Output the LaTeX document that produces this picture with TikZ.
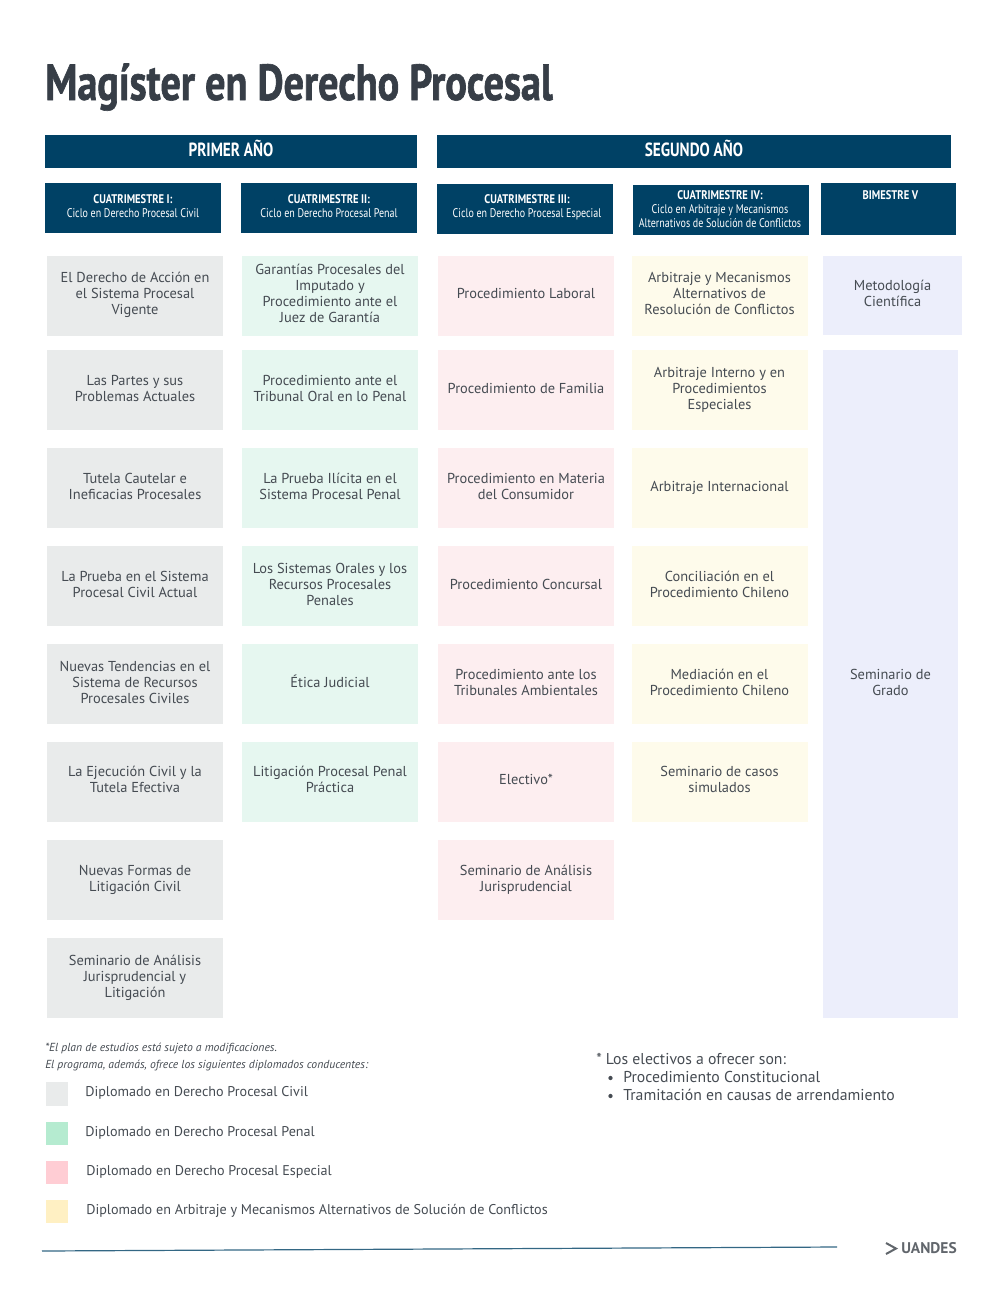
\documentclass[tikz,border=0pt]{standalone}
\usepackage{fontspec}
\setmainfont{PT Sans}
\newfontfamily\headfont[FakeStretch=0.8]{PT Sans}
\newfontfamily\termfont[FakeStretch=0.84]{PT Sans}
\newfontfamily\titlefont[FakeStretch=0.793,FakeBold=1.2]{PT Sans}
\definecolor{navy}{HTML}{004165}
\definecolor{ink}{HTML}{454B52}
\definecolor{titleink}{HTML}{373E47}
\definecolor{civil}{HTML}{E9EBEB}
\definecolor{penal}{HTML}{E6F7F0}
\definecolor{especial}{HTML}{FDEEF0}
\definecolor{arbitraje}{HTML}{FEFBEB}
\definecolor{bimestre}{HTML}{ECEEFB}
\definecolor{swatch green}{HTML}{B5EBD0}
\definecolor{swatch pink}{HTML}{FFCDD4}
\definecolor{swatch yellow}{HTML}{FFF0C3}
\tikzstyle{cell} = [minimum width=132pt,minimum height=60pt,inner sep=0pt]
\tikzstyle{cell label} = [align=center,text=ink,font=\fontsize{10.8}{12}\selectfont,yshift=1.2pt,inner sep=0pt]
\tikzstyle{head} = [fill=navy,minimum width=132pt,minimum height=37.5pt,inner sep=0pt]
\tikzstyle{head label} = [align=center,text=white,font=\headfont\fontsize{9.4}{10.5}\selectfont,yshift=1.5pt,inner sep=0pt]
\tikzstyle{year} = [fill=navy,minimum height=24.75pt,inner sep=0pt]
\tikzstyle{year label} = [text=white,font=\headfont\bfseries\fontsize{14.3}{16}\selectfont,yshift=2.3pt,inner sep=0pt]
\tikzstyle{swatch} = [minimum width=16.5pt,minimum height=17.5pt,inner sep=0pt]
\tikzstyle{legend} = [anchor=west,text=ink,font=\fontsize{10.6}{12}\selectfont,inner sep=0pt]
\tikzstyle{note} = [anchor=west,text=ink,font=\itshape\fontsize{8.75}{9}\selectfont,inner sep=0pt]
\tikzstyle{elective} = [anchor=west,text=ink,font=\fontsize{11.8}{13}\selectfont,inner sep=0pt]
\tikzstyle{bullet} = [circle,fill=ink,minimum size=3.2pt,inner sep=0pt]

\begin{document}
\begin{tikzpicture}[x=0.75pt,y=-0.75pt]
\useasboundingbox (0,0) rectangle (1000,1300);
\node[anchor=base west,inner sep=0pt,text=titleink,font=\titlefont\bfseries\fontsize{38}{40}\selectfont] at (45,100) (title) {Magíster en Derecho Procesal};
% years
\node[year,minimum width=279pt,label={[year label]center:PRIMER AÑO}] at (231,151.5) (year 1) {};
\node[year,minimum width=385.5pt,label={[year label]center:SEGUNDO AÑO}] at (694,151.5) (year 2) {};
% terms
\node[head,label={[head label]center:{\termfont\bfseries CUATRIMESTRE I:\\Ciclo en Derecho Procesal Civil}}] at (133,208) (term 1) {};
\node[head,label={[head label]center:{\termfont\bfseries CUATRIMESTRE II:\\Ciclo en Derecho Procesal Penal}}] at (329,208) (term 2) {};
\node[head,label={[head label,xshift=1.5pt]center:{\termfont\bfseries CUATRIMESTRE III:\\Ciclo en Derecho Procesal Especial}}] at (525,209) (term 3) {};
\node[head,label={[head label,yshift=-1pt,xshift=-0.75pt]center:{\termfont\bfseries CUATRIMESTRE IV:\\Ciclo en Arbitraje y Mecanismos\\Alternativos de Solución de Conflictos}}] at (721,210) (term 4) {};
\node[head,minimum width=101.25pt,minimum height=39pt,label={[head label,yshift=9pt,xshift=1.5pt]center:{\termfont\bfseries BIMESTRE V}}] at (888.5,209) (term 5) {};
% civil
\node[cell,fill=civil,label={[cell label]center:{El Derecho de Acción en\\el Sistema Procesal\\Vigente}}] at (135,296) (civil 1) {};
\node[cell,fill=civil,label={[cell label]center:{Las Partes y sus\\Problemas Actuales}}] at (135,390) (civil 2) {};
\node[cell,fill=civil,label={[cell label]center:{Tutela Cautelar e\\Ineficacias Procesales}}] at (135,488) (civil 3) {};
\node[cell,fill=civil,label={[cell label]center:{La Prueba en el Sistema\\Procesal Civil Actual}}] at (135,586) (civil 4) {};
\node[cell,fill=civil,label={[cell label]center:{Nuevas Tendencias en el\\Sistema de Recursos\\Procesales Civiles}}] at (135,684) (civil 5) {};
\node[cell,fill=civil,label={[cell label,yshift=0.75pt]center:{La Ejecución Civil y la\\Tutela Efectiva}}] at (135,782) (civil 6) {};
\node[cell,fill=civil,label={[cell label,yshift=-0.75pt]center:{Nuevas Formas de\\Litigación Civil}}] at (135,880) (civil 7) {};
\node[cell,fill=civil,label={[cell label,yshift=-0.75pt]center:{Seminario de Análisis\\Jurisprudencial y\\Litigación}}] at (135,978) (civil 8) {};
% penal
\node[cell,fill=penal,label={[cell label,yshift=0.75pt]center:{Garantías Procesales del\\Imputado y\\Procedimiento ante el\\Juez de Garantía}}] at (330,296) (penal 1) {};
\node[cell,fill=penal,label={[cell label]center:{Procedimiento ante el\\Tribunal Oral en lo Penal}}] at (330,390) (penal 2) {};
\node[cell,fill=penal,label={[cell label]center:{La Prueba Ilícita en el\\Sistema Procesal Penal}}] at (330,488) (penal 3) {};
\node[cell,fill=penal,label={[cell label]center:{Los Sistemas Orales y los\\Recursos Procesales\\Penales}}] at (330,586) (penal 4) {};
\node[cell,fill=penal,label={[cell label,yshift=0.75pt]center:{Ética Judicial}}] at (330,684) (penal 5) {};
\node[cell,fill=penal,label={[cell label,yshift=0.75pt]center:{Litigación Procesal Penal\\Práctica}}] at (330,782) (penal 6) {};
% especial
\node[cell,fill=especial,label={[cell label,yshift=0.75pt]center:{Procedimiento Laboral}}] at (526,296) (especial 1) {};
\node[cell,fill=especial,label={[cell label]center:{Procedimiento de Familia}}] at (526,390) (especial 2) {};
\node[cell,fill=especial,label={[cell label]center:{Procedimiento en Materia\\del Consumidor}}] at (526,488) (especial 3) {};
\node[cell,fill=especial,label={[cell label]center:{Procedimiento Concursal}}] at (526,586) (especial 4) {};
\node[cell,fill=especial,label={[cell label]center:{Procedimiento ante los\\Tribunales Ambientales}}] at (526,684) (especial 5) {};
\node[cell,fill=especial,label={[cell label,yshift=0.75pt]center:{Electivo*}}] at (526,782) (especial 6) {};
\node[cell,fill=especial,label={[cell label,yshift=-0.75pt]center:{Seminario de Análisis\\Jurisprudencial}}] at (526,880) (especial 7) {};
% arbitraje
\node[cell,fill=arbitraje,label={[cell label,yshift=0.75pt]center:{Arbitraje y Mecanismos\\Alternativos de\\Resolución de Conflictos}}] at (719.5,296) (arbitraje 1) {};
\node[cell,fill=arbitraje,label={[cell label,yshift=-0.75pt]center:{Arbitraje Interno y en\\Procedimientos\\Especiales}}] at (719.5,390) (arbitraje 2) {};
\node[cell,fill=arbitraje,label={[cell label,yshift=-0.75pt]center:{Arbitraje Internacional}}] at (719.5,488) (arbitraje 3) {};
\node[cell,fill=arbitraje,label={[cell label]center:{Conciliación en el\\Procedimiento Chileno}}] at (719.5,586) (arbitraje 4) {};
\node[cell,fill=arbitraje,label={[cell label]center:{Mediación en el\\Procedimiento Chileno}}] at (719.5,684) (arbitraje 5) {};
\node[cell,fill=arbitraje,label={[cell label,yshift=0.75pt]center:{Seminario de casos\\simulados}}] at (719.5,782) (arbitraje 6) {};
% bimestre
\node[cell,fill=bimestre,minimum width=104.25pt,minimum height=59.25pt,label={[cell label,yshift=0.75pt]center:{Metodología\\Científica}}] at (892.5,295.5) (bimestre 1) {};
\node[cell,fill=bimestre,minimum width=101.25pt,minimum height=501pt,label={[cell label]center:{Seminario de\\Grado}}] at (890.5,684) (bimestre 2) {};
% notes
\node[note] at (45,1048.5) (note 1) {*El plan de estudios está sujeto a modificaciones.};
\node[note] at (45,1065.5) (note 2) {El programa, además, ofrece los siguientes diplomados conducentes:};
\node[swatch,fill=civil] at (56.5,1094) (swatch 1) {};
\node[swatch,fill=swatch green] at (56.5,1133.5) (swatch 2) {};
\node[swatch,fill=swatch pink] at (57,1172.5) (swatch 3) {};
\node[swatch,fill=swatch yellow] at (57,1211.5) (swatch 4) {};
\node[legend] at (85,1092.5) (legend 1) {Diplomado en Derecho Procesal Civil};
\node[legend] at (85,1132.5) (legend 2) {Diplomado en Derecho Procesal Penal};
\node[legend] at (86,1171.5) (legend 3) {Diplomado en Derecho Procesal Especial};
\node[legend] at (86,1210.5) (legend 4) {Diplomado en Arbitraje y Mecanismos Alternativos de Solución de Conflictos};
\node[elective] at (596,1059) (elective 0) {* Los electivos a ofrecer son:};
\node[bullet] at (610.5,1078) (bullet 1) {};
\node[bullet] at (610.5,1096) (bullet 2) {};
\node[elective] at (623,1077) (elective 1) {Procedimiento Constitucional};
\node[elective] at (623,1095) (elective 2) {Tramitación en causas de arrendamiento};
% footer
\coordinate (rule start) at (42,1251);
\coordinate (rule end) at (837,1247);
\draw[navy!80,line width=0.9pt] (rule start) -- (rule end);
\draw[ink!85,line width=1.5pt] (886,1243) -- (896,1248.5) -- (886,1254);
\node[anchor=west,inner sep=0pt,text=ink!85,font=\bfseries\fontsize{11.6}{12}\selectfont] at (901,1248.5) (logo) {UANDES};
\end{tikzpicture}
\end{document}
